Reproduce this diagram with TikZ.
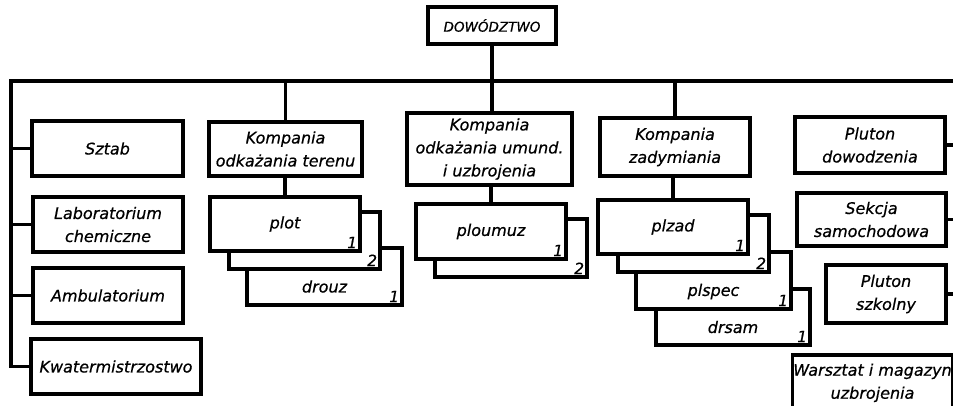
\documentclass[tikz,border=0pt]{standalone}
\usepackage{fontspec}
\setmainfont{DejaVu Sans}[ItalicFeatures={FakeBold=0.6}]

\tikzset{
  unit/.style={draw,line width=3.6pt,fill=white,inner sep=1pt,align=center},
  num/.style={anchor=south east,inner sep=4.5pt,font=\itshape\fontsize{15.5}{16}\selectfont},
  link/.style={line width=3.6pt}
}

\begin{document}
\begin{tikzpicture}[x=1pt,y=-1pt,font=\itshape\fontsize{16}{23}\selectfont]
        \clip(0,0)rectangle(953,405);
        % dowodztwo
        \node[unit,minimum width=128,minimum height=37,font=\itshape\fontsize{13.5}{16}\selectfont](dow)at(492,25.5){DOWÓDZTWO};
        % left column
        \node[unit,minimum width=151,minimum height=55](sztab)at(107.5,148.5){Sztab};
        \node[unit,minimum width=150,minimum height=55](lab)at(108,224.5){Laboratorium\\chemiczne};
        \node[unit,minimum width=150,minimum height=55](amb)at(108,295.5){Ambulatorium};
        \node[unit,minimum width=170,minimum height=55](kwat)at(116,366.5){Kwatermistrzostwo};
        % right column
        \node[unit,minimum width=150,minimum height=56](pdow)at(870,145){Pluton\\dowodzenia};
        \node[unit,minimum width=149,minimum height=53](sekcja)at(871.5,219.5){Sekcja\\samochodowa};
        \node[unit,minimum width=120,minimum height=58](pszk)at(886,294){Pluton\\szkolny};
        \node[unit,minimum width=155,minimum height=56,anchor=north](warsz)at(872.5,353){Warsztat i magazyn\\uzbrojenia};
        % kompanie
        \node[unit,minimum width=153,minimum height=54](kterenu)at(285.5,149){Kompania\\odkażania terenu};
        \node[unit,minimum width=165,minimum height=72](kuzbr)at(489.5,149){Kompania\\odkażania umund.\\i uzbrojenia};
        \node[unit,minimum width=150,minimum height=58](kzad)at(675,147){Kompania\\zadymiania};
        % plutony
        \node[unit,minimum width=155,minimum height=57,label={[yshift=-10pt]center:drouz},label={[num]south east:1}](drouz)at(324.5,276.5){};
        \node[unit,minimum width=151,minimum height=57,label={[num]south east:2}](plot2)at(304.5,240.5){};
        \node[unit,minimum width=150,minimum height=54,label={[num]south east:1}](plot)at(285,224){plot};
        \node[unit,minimum width=152,minimum height=58,label={[num]south east:2}](ploumuz2)at(511,248){};
        \node[unit,minimum width=150,minimum height=55,label={[num]south east:1}](ploumuz)at(491,231.5){ploumuz};
        \node[unit,minimum width=154,minimum height=56,label={[yshift=-10pt]center:drsam},label={[num]south east:1}](drsam)at(733,317){};
        \node[unit,minimum width=155,minimum height=57,label={[yshift=-11pt]center:plspec},label={[num]south east:1}](plspec)at(713.5,280.5){};
        \node[unit,minimum width=151,minimum height=57,label={[num]south east:2}](plzad2)at(693.5,243.5){};
        \node[unit,minimum width=150,minimum height=54,label={[num]south east:1}](plzad)at(673,227){plzad};
        % connections
        \coordinate(west)at(11,81);
        \coordinate(east)at(958,81);
        \draw[link](kwat.west)-|(west)--(east)|-(warsz.east);
        \foreach \n in {sztab,lab,amb}
            \draw[link](\n.west)--(\n.west-|west);
        \foreach \n in {pdow,sekcja,pszk}
            \draw[link](\n.east)--(\n.east-|east);
        \draw[link](dow.south)--(dow.south|-kuzbr.north);
        \draw[link](ploumuz.north)--(ploumuz.north|-kuzbr.south);
        \foreach \k/\p in {kterenu/plot,kzad/plzad}{
            \draw[link](\k.north)--(\k.north|-west);
            \draw[link](\p.north)--(\p.north|-\k.south);
        }
    \end{tikzpicture}
\end{document}
